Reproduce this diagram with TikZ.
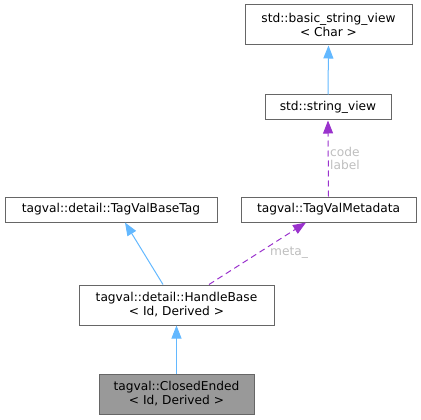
\documentclass[tikz,border=0pt]{standalone}
\usepackage{fontspec}
\setmainfont{DejaVu Sans}
\usetikzlibrary{arrows.meta}
\definecolor{inh}{HTML}{63B8FF}
\definecolor{usage}{HTML}{9A32CD}
\definecolor{lbl}{HTML}{BEBEBE}
\definecolor{bord}{HTML}{666666}
\definecolor{cur}{HTML}{999999}
\begin{document}
\begin{tikzpicture}[x=1pt,y=-1pt,
  cls/.style={draw=bord,line width=1pt,fill=white,inner sep=0pt,font=\fontsize{12.2}{14}\selectfont,align=center},
  inharrow/.style={draw=inh,line width=1pt,-{Triangle[length=13pt,width=10pt]}},
  usearrow/.style={draw=usage,line width=1pt,dash pattern=on 6pt off 4pt,-{Triangle[length=13pt,width=10pt]}},
  elabel/.style={text=lbl,font=\fontsize{12.2}{13}\selectfont,inner sep=0pt,align=left}]
\useasboundingbox (0,0) rectangle (421,420);
\node[cls,minimum width=167pt,minimum height=40pt] (bsv) at (328.5,25) {std::basic\_string\_view\\{<} Char {>}};
\node[cls,minimum width=126pt,minimum height=25pt] (sv) at (328,107.5) {std::string\_view};
\node[cls,minimum width=212pt,minimum height=25pt] (base) at (111,209.5) {tagval::detail::TagValBaseTag};
\node[cls,minimum width=175pt,minimum height=25pt] (meta) at (328.5,209.5) {tagval::TagValMetadata};
\node[cls,minimum width=195pt,minimum height=40pt] (hb) at (176.5,305) {tagval::detail::HandleBase\\{<} Id, Derived {>}};
\node[cls,fill=cur,minimum width=155pt,minimum height=40pt] (ce) at (176.5,394) {tagval::ClosedEnded\\{<} Id, Derived {>}};
\draw[inharrow] (sv.north) -- (bsv.south);
\draw[usearrow] (meta.north) -- (sv.south);
\node[elabel,anchor=west] (lcode) at (330,158) {code\\label};
\draw[inharrow] (hb.north -| 163,0) -- (base.south -| 125,0);
\draw[usearrow] (hb.north -| 209,0) -- (meta.south -| 306,0);
\node[elabel,anchor=west] (lmeta) at (270,253) {meta\_};
\draw[inharrow] (ce.north) -- (hb.south);
\end{tikzpicture}
\end{document}
